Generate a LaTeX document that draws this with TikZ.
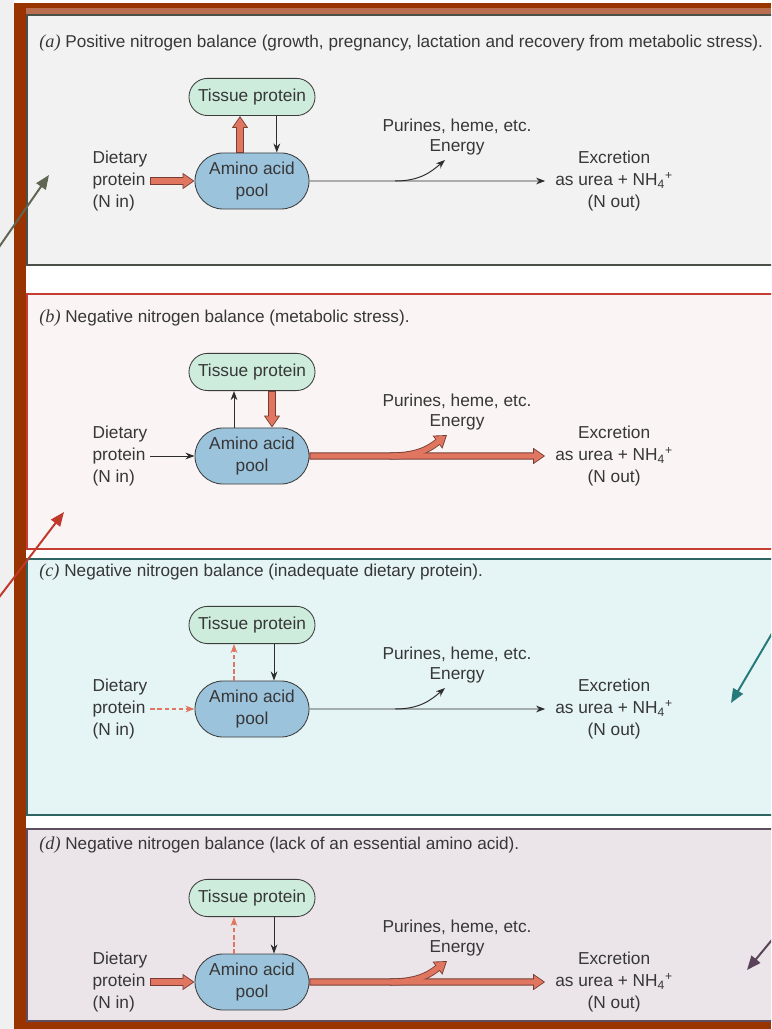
\documentclass[tikz,border=0pt]{standalone}
\usepackage{fontspec}
\setmainfont{Liberation Sans}
\newfontfamily\labfont{Liberation Serif}
\usetikzlibrary{shapes.misc,arrows.meta}
\definecolor{FrameBrown}{RGB}{153,51,0}
\definecolor{StripeBrown}{RGB}{185,110,80}
\definecolor{PageGray}{RGB}{240,240,240}
\definecolor{TextGray}{RGB}{55,55,55}
\definecolor{EdgeGray}{RGB}{60,60,60}
\definecolor{LineGray}{RGB}{45,45,45}
\definecolor{TissueGreen}{RGB}{205,236,220}
\definecolor{PoolBlue}{RGB}{155,195,220}
\definecolor{Salmon}{RGB}{224,118,96}
\definecolor{SalmonEdge}{RGB}{120,60,50}
\definecolor{PanelA}{RGB}{242,242,242}
\definecolor{PanelAEdge}{RGB}{75,80,72}
\definecolor{PanelB}{RGB}{250,244,244}
\definecolor{PanelBEdge}{RGB}{196,60,50}
\definecolor{PanelC}{RGB}{229,244,244}
\definecolor{PanelCEdge}{RGB}{45,100,100}
\definecolor{PanelD}{RGB}{235,229,234}
\definecolor{PanelDEdge}{RGB}{95,78,95}
\definecolor{PointA}{RGB}{95,102,82}
\definecolor{PointB}{RGB}{192,57,43}
\definecolor{PointC}{RGB}{38,122,122}
\definecolor{PointD}{RGB}{90,66,88}

\begin{document}
\begin{tikzpicture}[x=0.025cm, y=-0.025cm]
    \tikzstyle{tis} = [rounded rectangle, draw=EdgeGray, line width=0.6pt, fill=TissueGreen, minimum width=3.15cm, minimum height=0.93cm, inner sep=0pt, text=TextGray, font=\fontsize{12.3}{15.4}\selectfont]
    \tikzstyle{pool} = [tis, fill=PoolBlue, minimum width=2.85cm, minimum height=1.4cm, align=center]
    \tikzstyle{txt} = [text=TextGray, font=\fontsize{12.3}{15.4}\selectfont, inner sep=2pt]
    \tikzstyle{pur} = [txt, align=center, font=\fontsize{12.3}{13.6}\selectfont]
    \tikzstyle{title} = [txt, anchor=base west, inner sep=0pt, font=\fontsize{12.2}{14}\selectfont]
    \tikzstyle{flow} = [draw=LineGray, line width=0.7pt, -{Stealth[length=6.5pt,width=4.8pt]}]
    \tikzstyle{weak} = [draw=Salmon, line width=0.8pt, dash pattern=on 3pt off 2pt, -{Stealth[length=6.5pt,width=4.8pt]}]
    \tikzstyle{fatout} = [draw=SalmonEdge, line width=5pt, -{Triangle[length=8.5pt,width=11pt]}]
    \tikzstyle{fatin} = [draw=Salmon, line width=3.8pt, shorten <=0.6pt, shorten >=1.1pt, -{Triangle[length=6.8pt,width=8.8pt]}]
    \tikzstyle{panel} = [line width=1.5pt]
    \tikzstyle{pointer} = [line width=1.4pt, -{Triangle[length=10pt,width=8pt]}]

    \path[use as bounding box, clip] (0,0) rectangle (771,1029);
    \fill[PageGray] (0,0) rectangle (771,1029);
    \fill[white] (14,0) rectangle (771,1029);
    \fill[FrameBrown] (14,3) rectangle (771,8);
    \fill[StripeBrown] (26,8) rectangle (771,15);
    \fill[FrameBrown] (14,3) rectangle (26,1029);
    \fill[FrameBrown] (14,1021) rectangle (771,1029);

    \draw[panel, fill=PanelA, draw=PanelAEdge] (27,15) rectangle (790,265);
    \draw[panel, fill=PanelB, draw=PanelBEdge] (27,294) rectangle (790,549);
    \draw[panel, fill=PanelC, draw=PanelCEdge] (27,559) rectangle (790,815);
    \draw[panel, fill=PanelD, draw=PanelDEdge] (27,829) rectangle (790,1021);

    \begin{scope}
    \node[title] (tita) at (39,48) {{\labfont\itshape\fontsize{13}{14}\selectfont (a)} Positive nitrogen balance (growth, pregnancy, lactation and recovery from metabolic stress).};
    \node[pool] (poola) at (252,181) {Amino acid\\pool};
    \node[tis] (tisa) [above of=poola, node distance=2.1cm] {Tissue protein};
    \node[txt, align=left, node distance=3.3cm] (dieta) [left of=poola] {Dietary\\protein\\(N in)};
    \node[txt, align=center, inner xsep=7pt, node distance=9.05cm] (exca) [right of=poola] {Excretion\\as urea + NH\textsubscript{4}\textsuperscript{+}\\(N out)};
    \node[pur] (pura) at (457,137) {Purines, heme, etc.\\Energy};
    \coordinate (forka) at (395,181);
    \coordinate (tipa) at (445,160);

    \draw[fatout] ([xshift=-0.3cm]poola.north) -- ([xshift=-0.3cm]tisa.south);
    \draw[fatin] ([xshift=-0.3cm]poola.north) -- ([xshift=-0.3cm]tisa.south);
    \draw[flow] ([xshift=0.62cm]tisa.south) -- ([xshift=0.62cm]poola.north);
    \draw[fatout] (dieta) -- (poola);
    \draw[fatin] (dieta) -- (poola);
    \draw[flow] (poola) -- (exca);
    \draw[flow] (forka) .. controls +(25,0) and +(-14,12) .. (tipa);
    \end{scope}

    \begin{scope}[shift={(0,275)}]
    \node[title] (titb) at (39,48) {{\labfont\itshape\fontsize{13}{14}\selectfont (b)} Negative nitrogen balance (metabolic stress).};
    \node[pool] (poolb) at (252,181) {Amino acid\\pool};
    \node[tis] (tisb) [above of=poolb, node distance=2.1cm] {Tissue protein};
    \node[txt, align=left, node distance=3.3cm] (dietb) [left of=poolb] {Dietary\\protein\\(N in)};
    \node[txt, align=center, inner xsep=7pt, node distance=9.05cm] (excb) [right of=poolb] {Excretion\\as urea + NH\textsubscript{4}\textsuperscript{+}\\(N out)};
    \node[pur] (purb) at (457,137) {Purines, heme, etc.\\Energy};
    \coordinate (forkb) at (390,181);
    \coordinate (tipb) at (447,160);

    \draw[flow] (dietb) -- (poolb);
    \draw[flow] ([xshift=-0.45cm]poolb.north) -- ([xshift=-0.45cm]tisb.south);
    \draw[fatout] ([xshift=0.5cm]tisb.south) -- ([xshift=0.5cm]poolb.north);
    \draw[fatin] ([xshift=0.5cm]tisb.south) -- ([xshift=0.5cm]poolb.north);
    \draw[fatout] (forkb) .. controls +(30,0) and +(-16,12) .. (tipb);
    \draw[fatout] (poolb) -- (excb);
    \draw[fatin] (poolb) -- (excb);
    \draw[fatin] (forkb) .. controls +(30,0) and +(-16,12) .. (tipb);
    \end{scope}

    \begin{scope}[shift={(0,528)}]
    \node[title] (titc) at (39,48) {{\labfont\itshape\fontsize{13}{14}\selectfont (c)} Negative nitrogen balance (inadequate dietary protein).};
    \node[pool] (poolc) at (252,181) {Amino acid\\pool};
    \node[tis] (tisc) [above of=poolc, node distance=2.1cm] {Tissue protein};
    \node[txt, align=left, node distance=3.3cm] (dietc) [left of=poolc] {Dietary\\protein\\(N in)};
    \node[txt, align=center, inner xsep=7pt, node distance=9.05cm] (excc) [right of=poolc] {Excretion\\as urea + NH\textsubscript{4}\textsuperscript{+}\\(N out)};
    \node[pur] (purc) at (457,137) {Purines, heme, etc.\\Energy};
    \coordinate (forkc) at (395,181);
    \coordinate (tipc) at (445,160);

    \draw[weak] (dietc) -- (poolc);
    \draw[weak] ([xshift=-0.45cm]poolc.north) -- ([xshift=-0.45cm]tisc.south);
    \draw[flow] ([xshift=0.55cm]tisc.south) -- ([xshift=0.55cm]poolc.north);
    \draw[flow] (poolc) -- (excc);
    \draw[flow] (forkc) .. controls +(25,0) and +(-14,12) .. (tipc);
    \end{scope}

    \begin{scope}[shift={(0,801)}]
    \node[title] (titd) at (39,48) {{\labfont\itshape\fontsize{13}{14}\selectfont (d)} Negative nitrogen balance (lack of an essential amino acid).};
    \node[pool] (poold) at (252,181) {Amino acid\\pool};
    \node[tis] (tisd) [above of=poold, node distance=2.1cm] {Tissue protein};
    \node[txt, align=left, node distance=3.3cm] (dietd) [left of=poold] {Dietary\\protein\\(N in)};
    \node[txt, align=center, inner xsep=7pt, node distance=9.05cm] (excd) [right of=poold] {Excretion\\as urea + NH\textsubscript{4}\textsuperscript{+}\\(N out)};
    \node[pur] (purd) at (457,137) {Purines, heme, etc.\\Energy};
    \coordinate (forkd) at (390,181);
    \coordinate (tipd) at (447,160);

    \draw[fatout] (dietd) -- (poold);
    \draw[fatin] (dietd) -- (poold);
    \draw[weak] ([xshift=-0.45cm]poold.north) -- ([xshift=-0.45cm]tisd.south);
    \draw[flow] ([xshift=0.55cm]tisd.south) -- ([xshift=0.55cm]poold.north);
    \draw[fatout] (forkd) .. controls +(30,0) and +(-16,12) .. (tipd);
    \draw[fatout] (poold) -- (excd);
    \draw[fatin] (poold) -- (excd);
    \draw[fatin] (forkd) .. controls +(30,0) and +(-16,12) .. (tipd);
    \end{scope}

    \coordinate (pa0) at (-3,250);
    \coordinate (pa1) at (49,175);
    \coordinate (pb0) at (-3,600);
    \coordinate (pb1) at (64,512);
    \coordinate (pc0) at (774,630);
    \coordinate (pc1) at (731,703);
    \coordinate (pd0) at (776,935);
    \coordinate (pd1) at (747,970);
    \draw[pointer, PointA] (pa0) -- (pa1);
    \draw[pointer, PointB] (pb0) -- (pb1);
    \draw[pointer, PointC] (pc0) -- (pc1);
    \draw[pointer, PointD] (pd0) -- (pd1);
\end{tikzpicture}
\end{document}
